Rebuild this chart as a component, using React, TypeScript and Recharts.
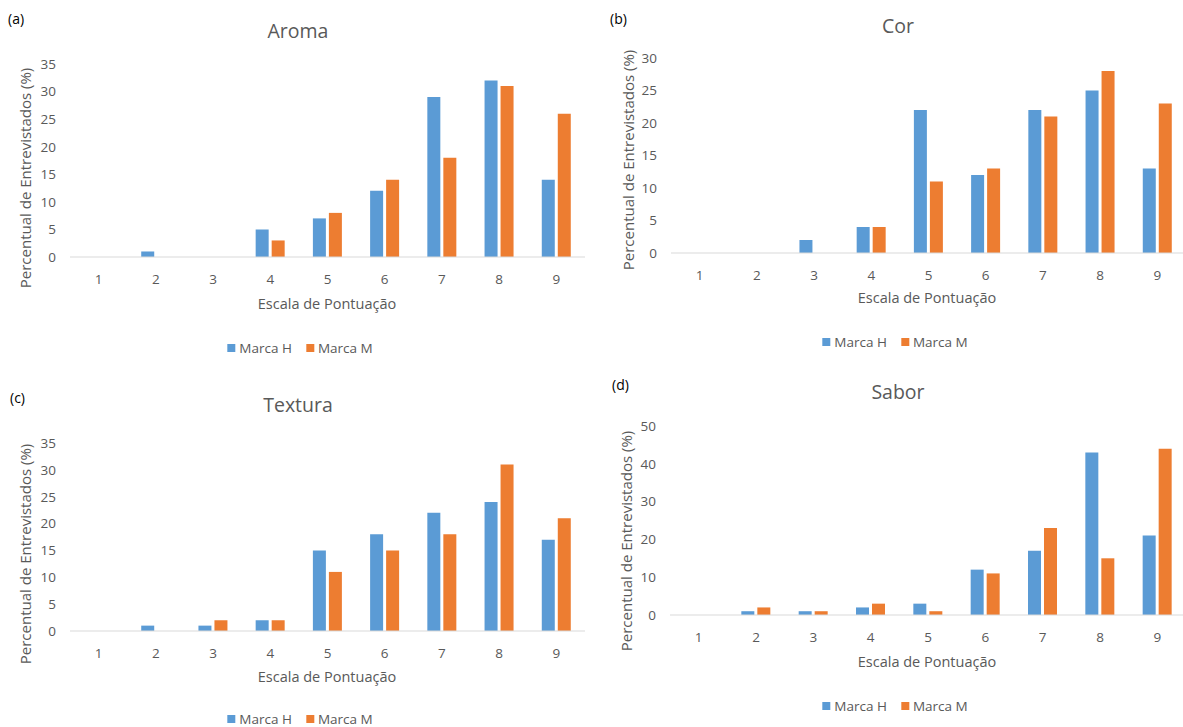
import React from 'react';
import { BarChart, Bar, XAxis, YAxis } from 'recharts';

const categories = ['1', '2', '3', '4', '5', '6', '7', '8', '9'];

const aromaH = [0, 1, 0, 5, 7, 12, 29, 32, 14];
const aromaM = [0, 0, 0, 3, 8, 14, 18, 31, 26];
const corH = [0, 0, 2, 4, 22, 12, 22, 25, 13];
const corM = [0, 0, 0, 4, 11, 13, 21, 28, 23];
const texturaH = [0, 1, 1, 2, 15, 18, 22, 24, 17];
const texturaM = [0, 0, 2, 2, 11, 15, 18, 31, 21];
const saborH = [0, 1, 1, 2, 3, 12, 17, 43, 21];
const saborM = [0, 2, 1, 3, 1, 11, 23, 15, 44];

const ticks35 = [0, 5, 10, 15, 20, 25, 30, 35];
const ticks30 = [0, 5, 10, 15, 20, 25, 30];
const ticks50 = [0, 10, 20, 30, 40, 50];

const BLUE = '#5b9bd5';
const ORANGE = '#ed7d31';
const GREY = '#595959';
const FONT = '"Open Sans", sans-serif';

const buildRows = (h: number[], m: number[]) =>
  categories.map((c, i) => ({ score: c, h: h[i], m: m[i] }));

type PanelProps = {
  tag: string;
  title: string;
  h: number[];
  m: number[];
  ticks: number[];
  left: number;
  top: number;
  width: number;
  height: number;
  margin: { top: number; right: number; bottom: number; left: number };
  titlePos: [number, number];
  tagPos: [number, number];
  yLabelPos: [number, number];
  xLabelPos: [number, number];
  legendPos: [number, number];
};

const centered = (x: number, y: number): React.CSSProperties => ({
  position: 'absolute',
  left: x,
  top: y,
  transform: 'translate(-50%, -50%)',
  whiteSpace: 'nowrap',
});

const Panel = (p: PanelProps) => {
  const data = buildRows(p.h, p.m);
  return (
    <>
      <div style={{ position: 'absolute', left: p.left, top: p.top }}>
        <BarChart width={p.width} height={p.height} data={data} margin={p.margin} barSize={13} barGap={3}>
          <XAxis
            dataKey="score"
            tickLine={false}
            axisLine={{ stroke: '#d9d9d9' }}
            tickSize={0}
            tickMargin={17}
            height={30}
            tick={{ fill: GREY, fontSize: 13.5, fontFamily: FONT }}
          />
          <YAxis
            domain={[0, p.ticks[p.ticks.length - 1]]}
            ticks={p.ticks}
            axisLine={false}
            tickLine={false}
            tickSize={0}
            tickMargin={14}
            width={60}
            interval={0}
            tick={{ fill: GREY, fontSize: 13.5, fontFamily: FONT }}
          />
          <Bar dataKey="h" name="Marca H" fill={BLUE} isAnimationActive={false} />
          <Bar dataKey="m" name="Marca M" fill={ORANGE} isAnimationActive={false} />
        </BarChart>
      </div>
      <div style={{ ...centered(p.titlePos[0], p.titlePos[1]), fontSize: 19.5, color: GREY }}>{p.title}</div>
      <div style={{ position: 'absolute', left: p.tagPos[0], top: p.tagPos[1], transform: 'translateY(-50%)', fontSize: 14, color: '#000' }}>
        {p.tag}
      </div>
      <div style={{ ...centered(p.yLabelPos[0], p.yLabelPos[1]), transform: 'translate(-50%, -50%) rotate(-90deg)', fontSize: 15, color: GREY }}>
        Percentual de Entrevistados (%)
      </div>
      <div style={{ ...centered(p.xLabelPos[0], p.xLabelPos[1]), fontSize: 14.5, color: GREY }}>Escala de Pontuação</div>
      <div style={{ ...centered(p.legendPos[0], p.legendPos[1]), fontSize: 13.5, color: GREY, display: 'flex', alignItems: 'center' }}>
        <span style={{ width: 8, height: 8, background: BLUE, display: 'inline-block', marginRight: 4 }} />
        <span style={{ marginRight: 14 }}>Marca H</span>
        <span style={{ width: 8, height: 8, background: ORANGE, display: 'inline-block', marginRight: 4 }} />
        <span>Marca M</span>
      </div>
    </>
  );
};

export default function App() {
  return (
    <div
      style={{
        position: 'absolute',
        left: 0,
        top: 0,
        width: 1183,
        height: 727,
        overflow: 'hidden',
        background: '#fff',
        fontFamily: FONT,
      }}
    >
      <Panel
        tag="(a)"
        title="Aroma"
        h={aromaH}
        m={aromaM}
        ticks={ticks35}
        left={0}
        top={0}
        width={590}
        height={370}
        margin={{ top: 64, right: 5, bottom: 83, left: 10 }}
        titlePos={[298, 30]}
        tagPos={[8, 18]}
        yLabelPos={[25, 178]}
        xLabelPos={[327, 303]}
        legendPos={[300, 348]}
      />
      <Panel
        tag="(b)"
        title="Cor"
        h={corH}
        m={corM}
        ticks={ticks30}
        left={590}
        top={0}
        width={600}
        height={370}
        margin={{ top: 58, right: 4, bottom: 87, left: 21 }}
        titlePos={[898, 25]}
        tagPos={[610, 18]}
        yLabelPos={[628, 160]}
        xLabelPos={[927, 297]}
        legendPos={[895, 342]}
      />
      <Panel
        tag="(c)"
        title="Textura"
        h={texturaH}
        m={texturaM}
        ticks={ticks35}
        left={0}
        top={370}
        width={590}
        height={357}
        margin={{ top: 73, right: 5, bottom: 66, left: 10 }}
        titlePos={[298, 404]}
        tagPos={[10, 397]}
        yLabelPos={[25, 554]}
        xLabelPos={[327, 676]}
        legendPos={[300, 719]}
      />
      <Panel
        tag="(d)"
        title="Sabor"
        h={saborH}
        m={saborM}
        ticks={ticks50}
        left={590}
        top={370}
        width={600}
        height={357}
        margin={{ top: 56, right: 4, bottom: 82, left: 20 }}
        titlePos={[898, 391]}
        tagPos={[612, 384]}
        yLabelPos={[626, 541]}
        xLabelPos={[927, 661]}
        legendPos={[895, 706]}
      />
    </div>
  );
}
